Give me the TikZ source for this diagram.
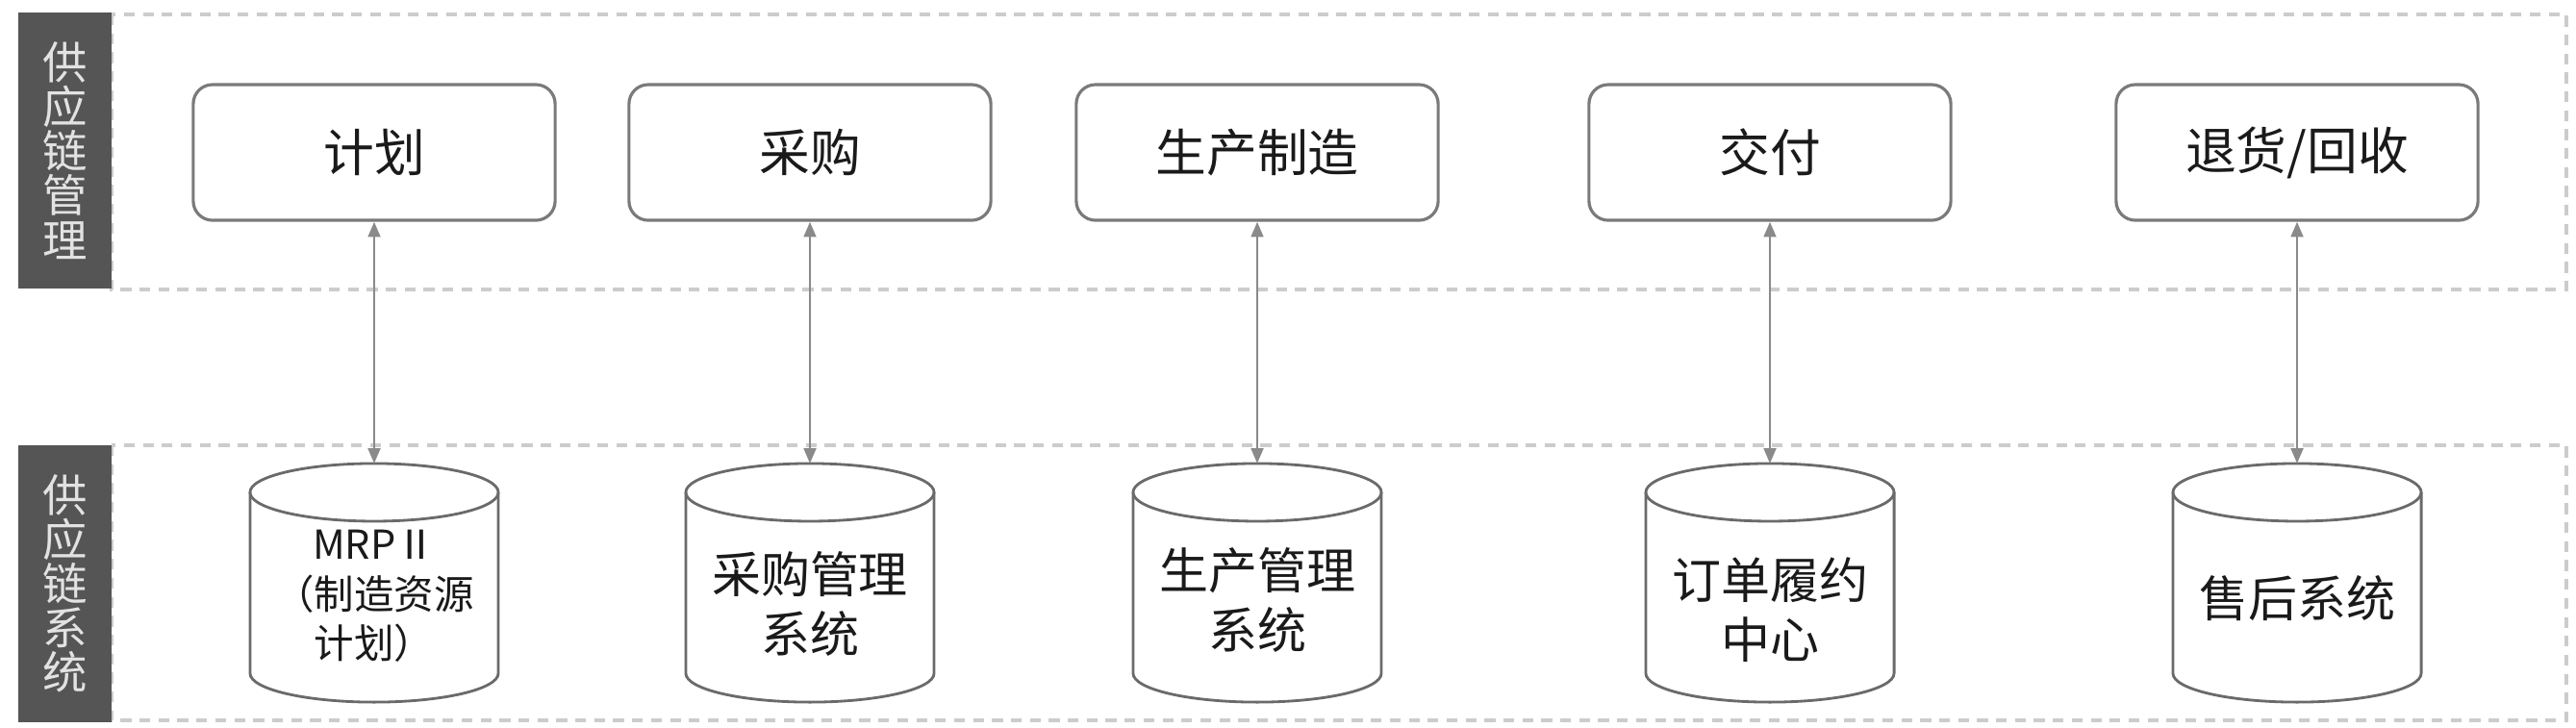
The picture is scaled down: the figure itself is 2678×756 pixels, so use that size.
\documentclass[tikz,border=0pt]{standalone}
\usepackage{fontspec}
\newfontfamily\cjk{Noto Sans CJK SC}
\usetikzlibrary{arrows.meta,calc}
\definecolor{bandline}{HTML}{CCCCCC}
\definecolor{barfill}{HTML}{555555}
\definecolor{bartext}{HTML}{E2E2E2}
\definecolor{edgecol}{HTML}{7A7A7A}
\definecolor{cylcol}{HTML}{6A6A6A}
\definecolor{conncol}{HTML}{8A8A8A}
\definecolor{txt}{HTML}{1A1A1A}
\begin{document}
\begin{tikzpicture}[x=0.01cm,y=-0.01cm,
  band/.style={draw=bandline, line width=1.1pt, dash pattern=on 3.2pt off 2.4pt},
  sidebar/.style={fill=barfill, draw=none, minimum width=0.97cm, minimum height=2.87cm,
    inner sep=0pt, text=bartext, align=center, font=\cjk\fontsize{13.2}{13.1}\selectfont},
  stagebox/.style={draw=edgecol, line width=0.9pt, rounded corners=0.2cm, fill=white,
    minimum width=3.76cm, minimum height=1.41cm, inner sep=0pt, text=txt,
    font=\cjk\fontsize{15}{18}\selectfont},
  cylbody/.style={draw=none, minimum width=2.58cm, minimum height=2.48cm, inner sep=0pt, outer sep=0pt},
  cyltext/.style={text=txt, align=center, inner sep=0pt, font=\cjk\fontsize{14.5}{17.6}\selectfont},
  cylsmall/.style={text=txt, align=center, inner sep=0pt, font=\cjk\fontsize{11.8}{14.6}\selectfont},
  cylline/.style={draw=cylcol, line width=0.8pt},
  conn/.style={draw=conncol, line width=0.8pt, {Triangle[length=4.5pt,width=3.6pt]}-{Triangle[length=4.5pt,width=3.6pt]}, color=conncol}
]
\useasboundingbox (0,0) rectangle (2678,756);
\fill[white] (0,0) rectangle (2678,756);

% bands
\draw[band] (116,15) rectangle (2668,301);
\draw[band] (116,463) rectangle (2668,749);

% side bars
\node[sidebar] (lab1) at (67.5,156.5) {供\\应\\链\\管\\理};
\node[sidebar] (lab2) at (67.5,607) {供\\应\\链\\系\\统};

% stage boxes
\node[stagebox] (b1) at (389,158.5) {计划};
\node[stagebox] (b2) at (842,158.5) {采购};
\node[stagebox] (b3) at (1307,158.5) {生产制造};
\node[stagebox] (b4) at (1840,158.5) {交付};
\node[stagebox] (b5) at (2388,158.5) {退货/回收};

% cylinders
\node[cylbody] (c1) at (389,606) {};
\node[cylbody] (c2) at (842,606) {};
\node[cylbody] (c3) at (1307,606) {};
\node[cylbody] (c4) at (1840,606) {};
\node[cylbody] (c5) at (2388,606) {};
\foreach \c in {c1,c2,c3,c4,c5}{
  \draw[cylline] ($(\c.north west)+(0,-0.3cm)$) -- ($(\c.south west)+(0,0.3cm)$)
     arc[start angle=180,end angle=360,x radius=1.29cm,y radius=0.3cm]
     -- ($(\c.north east)+(0,-0.3cm)$);
  \draw[cylline] ($(\c.north)+(0,-0.3cm)$) ellipse[x radius=1.29cm, y radius=0.3cm];
}
\node[cylsmall] (t1) at (389,620) {MRPⅡ\\（制造资源\\计划）};
\node[cyltext] (t2) at (842,628) {采购管理\\系统};
\node[cyltext] (t3) at (1307,624) {生产管理\\系统};
\node[cyltext] (t4) at (1840,634) {订单履约\\中心};
\node[cyltext] (t5) at (2388,622) {售后系统};

% connectors
\draw[conn] (b1.south) -- (c1.north);
\draw[conn] (b2.south) -- (c2.north);
\draw[conn] (b3.south) -- (c3.north);
\draw[conn] (b4.south) -- (c4.north);
\draw[conn] (b5.south) -- (c5.north);
\end{tikzpicture}
\end{document}
